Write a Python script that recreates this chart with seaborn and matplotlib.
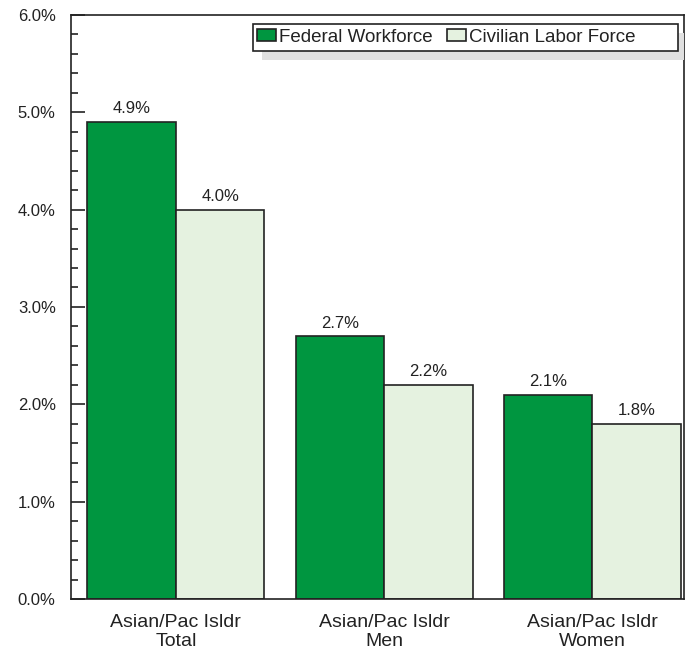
import seaborn as sns
import matplotlib.pyplot as plt
import matplotlib.patches as mpatches
from matplotlib.ticker import MultipleLocator, FuncFormatter
import pandas as pd

# chart values
categories = ["Asian/Pac Isldr\nTotal", "Asian/Pac Isldr\nMen", "Asian/Pac Isldr\nWomen"]
series = ["Federal Workforce", "Civilian Labor Force"]
federal = [4.9, 2.7, 2.1]
civilian = [4.0, 2.2, 1.8]
y_ticks = [0, 1, 2, 3, 4, 5, 6]

df = pd.DataFrame({
    "group": categories * 2,
    "series": [series[0]] * 3 + [series[1]] * 3,
    "value": federal + civilian,
})

sns.set_style("white")
plt.rcParams["font.family"] = ["Liberation Sans", "DejaVu Sans"]
txt = "#222222"
W, H = 685, 650

fig = plt.figure(figsize=(6.85, 6.5), dpi=100)
ax = fig.add_axes([0.1036, 0.0785, 0.895, 0.8985])

palette = {series[0]: "#009640", series[1]: "#e5f2e0"}
sns.barplot(data=df, x="group", y="value", hue="series", palette=palette,
            order=categories, hue_order=series, width=0.85,
            edgecolor=txt, linewidth=1.2, saturation=1, ax=ax)

# value labels over bars
for cont in ax.containers:
    ax.bar_label(cont, labels=[f"{v:.1f}%" for v in cont.datavalues],
                 padding=4, fontsize=12, color=txt)

ax.set_xlim(-0.504, 2.44)
ax.set_ylim(0, 6)
ax.set_yticks(y_ticks)
ax.yaxis.set_minor_locator(MultipleLocator(0.2))
ax.yaxis.set_major_formatter(FuncFormatter(lambda v, p: f"{v:.1f}%"))
ax.tick_params(axis="y", which="major", direction="in", length=10, width=1.2,
               left=True, labelsize=12, colors=txt, pad=11)
ax.tick_params(axis="y", which="minor", direction="in", length=5, width=1.2,
               left=True, colors=txt)
ax.tick_params(axis="x", length=0, labelsize=14, labelcolor=txt, pad=11)
for lab in ax.get_xticklabels():
    lab.set_linespacing(1.1)
ax.set_xlabel("")
ax.set_ylabel("")
for s in ax.spines.values():
    s.set_color(txt)
    s.set_linewidth(1.2)

# legend: items without frame, box and shadow drawn by hand
leg = ax.legend(loc="center left", bbox_to_anchor=(257 / W, 1 - 37.5 / H),
                bbox_transform=fig.transFigure, ncol=2, fontsize=13.5,
                frameon=False, handlelength=1.0, handleheight=0.6,
                handletextpad=0.15, columnspacing=0.8, borderpad=0,
                borderaxespad=0)
for t in leg.get_texts():
    t.set_color(txt)
for h in leg.legend_handles:
    h.set_edgecolor(txt)
    h.set_linewidth(1.2)
leg.set_zorder(6)

box_w, box_h = 425 / W, 27 / H
shadow = mpatches.Rectangle((262 / W, 1 - 60 / H), box_w, box_h,
                            transform=fig.transFigure, facecolor="#e0e0e0",
                            edgecolor="none", zorder=4)
frame = mpatches.Rectangle((253 / W, 1 - 51 / H), box_w, box_h,
                           transform=fig.transFigure, facecolor="white",
                           edgecolor=txt, linewidth=1.2, zorder=5)
ax.add_artist(shadow)
ax.add_artist(frame)

fig.savefig("out.png", dpi=100)
